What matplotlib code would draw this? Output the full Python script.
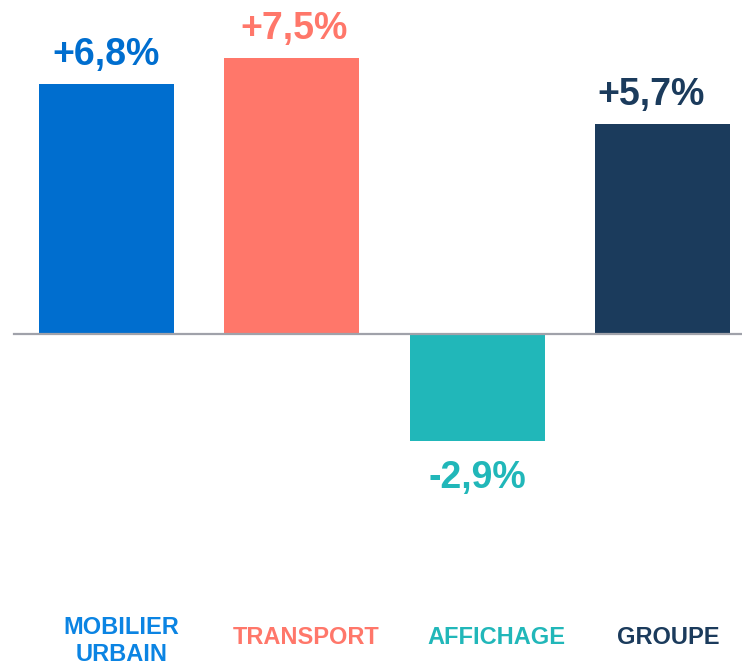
import matplotlib
matplotlib.use("Agg")
import matplotlib.pyplot as plt

plt.rcParams['font.family'] = ['Liberation Sans', 'DejaVu Sans']

categories = ["MOBILIER\nURBAIN", "TRANSPORT", "AFFICHAGE", "GROUPE"]
values = [6.8, 7.5, -2.9, 5.7]
value_labels = ["+6,8%", "+7,5%", "-2,9%", "+5,7%"]
bar_colors = ["#006ECF", "#FF776A", "#21B7B9", "#1B3B5C"]
label_colors = ["#0B84E3", "#FF776A", "#21B7B9", "#1B3B5C"]

# small horizontal nudges (in bar units) for the value and category texts
value_shift = [0.0, 0.01, 0.0, -0.062]
label_shift = [0.08, 0.075, 0.10, 0.03]
label_y = [641, 637, 637, 637]  # pixel rows from the top

fig = plt.figure(figsize=(7.42, 6.66), dpi=100)
ax = fig.add_axes([0, 0, 1, 1])
ax.set_xlim(-0.574, 3.426)
ax.set_ylim(-9.02, 9.076)
ax.axis("off")

xs = list(range(len(values)))
ax.bar(xs, values, width=0.728, color=bar_colors, zorder=2)
ax.axhline(0, xmin=14 / 742, xmax=1, color="#A0A2AA", lw=1.6, zorder=3)

for x, v, lab, c, s in zip(xs, values, value_labels, bar_colors, value_shift):
    off = 21 if v >= 0 else -27
    ax.annotate(lab, (x + s, v), xytext=(0, off), textcoords="offset points",
                ha="center", va="center", fontsize=27, fontweight="bold", color=c)

for x, cat, c, s, yp in zip(xs, categories, label_colors, label_shift, label_y):
    ax.text(x + s, 1 - yp / 666, cat, transform=ax.get_xaxis_transform(),
            ha="center", va="center", multialignment="center", linespacing=1.2,
            fontsize=17, fontweight="bold", color=c)

fig.savefig("out.png", dpi=100)
